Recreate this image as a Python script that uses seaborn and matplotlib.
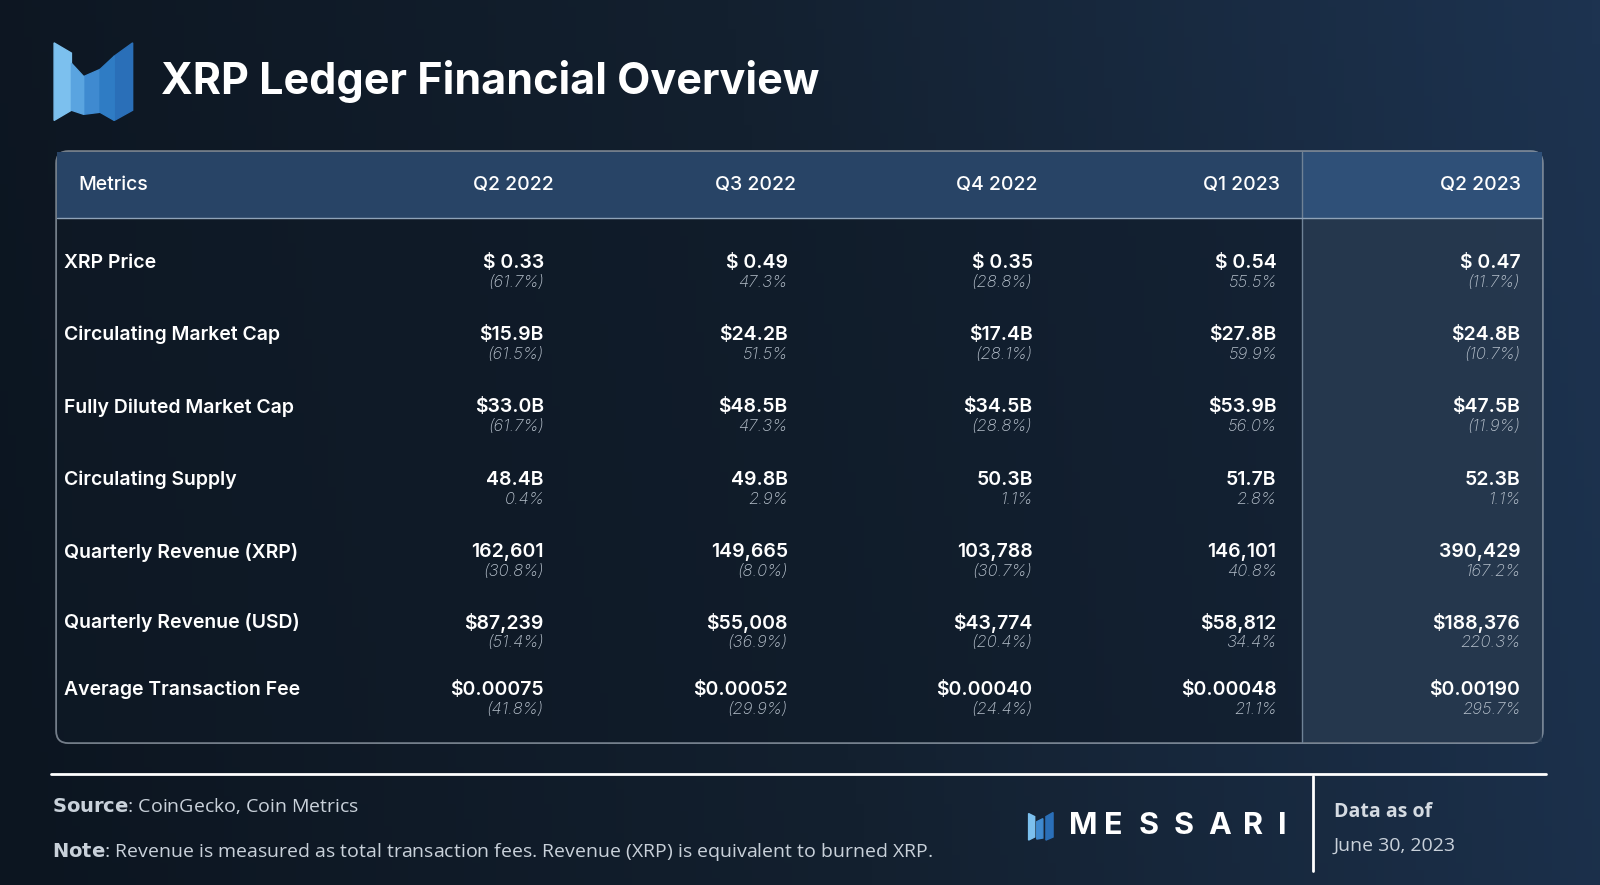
import matplotlib
matplotlib.use("Agg")
import matplotlib.pyplot as plt
from matplotlib.patches import FancyBboxPatch, Rectangle, Polygon
import seaborn as sns
import numpy as np

sns.set_style("dark")

# data
title = "XRP Ledger Financial Overview"
quarters = ["Q2 2022", "Q3 2022", "Q4 2022", "Q1 2023", "Q2 2023"]
metrics = ["XRP Price", "Circulating Market Cap", "Fully Diluted Market Cap",
           "Circulating Supply", "Quarterly Revenue (XRP)", "Quarterly Revenue (USD)",
           "Average Transaction Fee"]
q2_2022 = ["$ 0.33", "$15.9B", "$33.0B", "48.4B", "162,601", "$87,239", "$0.00075"]
q3_2022 = ["$ 0.49", "$24.2B", "$48.5B", "49.8B", "149,665", "$55,008", "$0.00052"]
q4_2022 = ["$ 0.35", "$17.4B", "$34.5B", "50.3B", "103,788", "$43,774", "$0.00040"]
q1_2023 = ["$ 0.54", "$27.8B", "$53.9B", "51.7B", "146,101", "$58,812", "$0.00048"]
q2_2023 = ["$ 0.47", "$24.8B", "$47.5B", "52.3B", "390,429", "$188,376", "$0.00190"]
chg_q2_2022 = ["(61.7%)", "(61.5%)", "(61.7%)", "0.4%", "(30.8%)", "(51.4%)", "(41.8%)"]
chg_q3_2022 = ["47.3%", "51.5%", "47.3%", "2.9%", "(8.0%)", "(36.9%)", "(29.9%)"]
chg_q4_2022 = ["(28.8%)", "(28.1%)", "(28.8%)", "1.1%", "(30.7%)", "(20.4%)", "(24.4%)"]
chg_q1_2023 = ["55.5%", "59.9%", "56.0%", "2.8%", "40.8%", "34.4%", "21.1%"]
chg_q2_2023 = ["(11.7%)", "(10.7%)", "(11.9%)", "1.1%", "167.2%", "220.3%", "295.7%"]
values = [q2_2022, q3_2022, q4_2022, q1_2023, q2_2023]
changes = [chg_q2_2022, chg_q3_2022, chg_q4_2022, chg_q1_2023, chg_q2_2023]

# layout measured on a 1568 x 867 canvas
W, H = 1568, 867
fig = plt.figure(figsize=(16, 8.85), dpi=100)
ax = fig.add_axes([0, 0, 1, 1])
ax.set_xlim(0, W)
ax.set_ylim(H, 0)
ax.axis("off")

# background gradient
gx = np.linspace(0, 1, 200)
gy = np.linspace(0, 1, 120)
X, Y = np.meshgrid(gx, gy)
grad = 0.55 * X + 0.25 * (1 - Y) + 0.2 * Y
cmap = matplotlib.colors.LinearSegmentedColormap.from_list("bg", ["#0c1520", "#13202f", "#1d3350"])
ax.imshow(grad, extent=[0, W, H, 0], cmap=cmap, aspect="auto", zorder=0)

font = "Open Sans"
numfont = "Inter"

# logo
ax.add_patch(Polygon([(53, 42), (70, 52), (70, 108), (53, 118)], color="#7cc0ee", zorder=2))
ax.add_patch(Polygon([(82, 75), (98, 68), (98, 110), (82, 112)], color="#3f8ad0", zorder=2))
ax.add_patch(Polygon([(112, 55), (130, 42), (130, 108), (112, 118)], color="#2a6fb8", zorder=2))
ax.add_patch(Polygon([(70, 62), (82, 75), (82, 112), (70, 108)], color="#5aa4e0", zorder=2))
ax.add_patch(Polygon([(98, 68), (112, 55), (112, 118), (98, 110)], color="#2f7cc4", zorder=2))
ax.text(158, 80, title, color="white", fontsize=31, fontweight="bold", family=numfont,
        va="center", ha="left", zorder=3)

# table box
x0, x1, y0, y1 = 55, 1512, 148, 728
ax.add_patch(FancyBboxPatch((x0, y0), x1 - x0, y1 - y0, boxstyle="round,pad=0,rounding_size=12",
                            facecolor="#0f1a27", edgecolor="#c9d3de", lw=1.3, alpha=0.55, zorder=1))
ax.add_patch(Rectangle((x0 + 1, y0 + 1), x1 - x0 - 2, 65, facecolor="#284466", edgecolor="none", zorder=2))
ax.add_patch(Rectangle((1276, y0 + 1), x1 - 1277, 65, facecolor="#2f5078", edgecolor="none", zorder=2))
ax.add_patch(Rectangle((1276, 215), x1 - 1277, y1 - 216, facecolor="#2a3d54", edgecolor="none", alpha=0.8, zorder=2))
ax.plot([1276, 1276], [y0 + 1, y1 - 1], color="#6f8296", lw=1, zorder=3)
ax.plot([x0 + 1, x1 - 1], [214, 214], color="#8fa3b8", lw=1, zorder=3)

ax.text(77, 181, "Metrics", color="white", fontsize=14, family=numfont, fontweight="medium",
        va="center", zorder=4)
head_x = [543, 780, 1017, 1254, 1491]
val_x = [533, 772, 1012, 1251, 1490]
for q, hx in zip(quarters, head_x):
    ax.text(hx, 181, q, color="white", fontsize=14, family=numfont, fontweight="medium",
            ha="right", va="center", zorder=4)

row_y = [258, 328, 399, 470, 541, 610, 676]
for i, (m, ry) in enumerate(zip(metrics, row_y)):
    ax.text(63, ry, m, color="white", fontsize=14, family=numfont, fontweight="semibold",
            va="center", zorder=4)
    for j, vx in enumerate(val_x):
        ax.text(vx, ry, values[j][i], color="white", fontsize=14, family=numfont,
                fontweight="semibold", ha="right", va="center", zorder=4)
        ax.text(vx, ry + 19, changes[j][i], color="#b8c2cd", fontsize=12, family=numfont,
                style="italic", fontweight="light", ha="right", va="center", zorder=4)

# footer
ax.plot([50, 1515], [758, 758], color="white", lw=2, zorder=3)
ax.plot([1287, 1287], [760, 853], color="white", lw=2, zorder=3)
ax.text(51, 790, r"$\bf{Source}$: CoinGecko, Coin Metrics", color="#c9d1da", fontsize=14,
        family=font, va="center")
ax.text(51, 835, r"$\bf{Note}$: Revenue is measured as total transaction fees. Revenue (XRP) is equivalent to burned XRP.",
        color="#c9d1da", fontsize=14, family=font, va="center")
ax.add_patch(Polygon([(1008, 797), (1014, 800), (1014, 820), (1008, 823)], color="#7cc0ee"))
ax.add_patch(Polygon([(1016, 805), (1022, 802), (1022, 821), (1016, 822)], color="#3f8ad0"))
ax.add_patch(Polygon([(1025, 800), (1032, 796), (1032, 820), (1025, 823)], color="#2a6fb8"))
for k, ch in enumerate("MESSARI"):
    ax.text(1048 + k * 34, 809, ch, color="white", fontsize=22, fontweight="bold",
            family=numfont, va="center")
ax.text(1307, 795, "Data as of", color="#d5dbe2", fontsize=14, family=font, fontweight="bold",
        va="center")
ax.text(1307, 829, "June 30, 2023", color="#c9d1da", fontsize=14, family=font, va="center")

fig.savefig("out.png", dpi=100)
